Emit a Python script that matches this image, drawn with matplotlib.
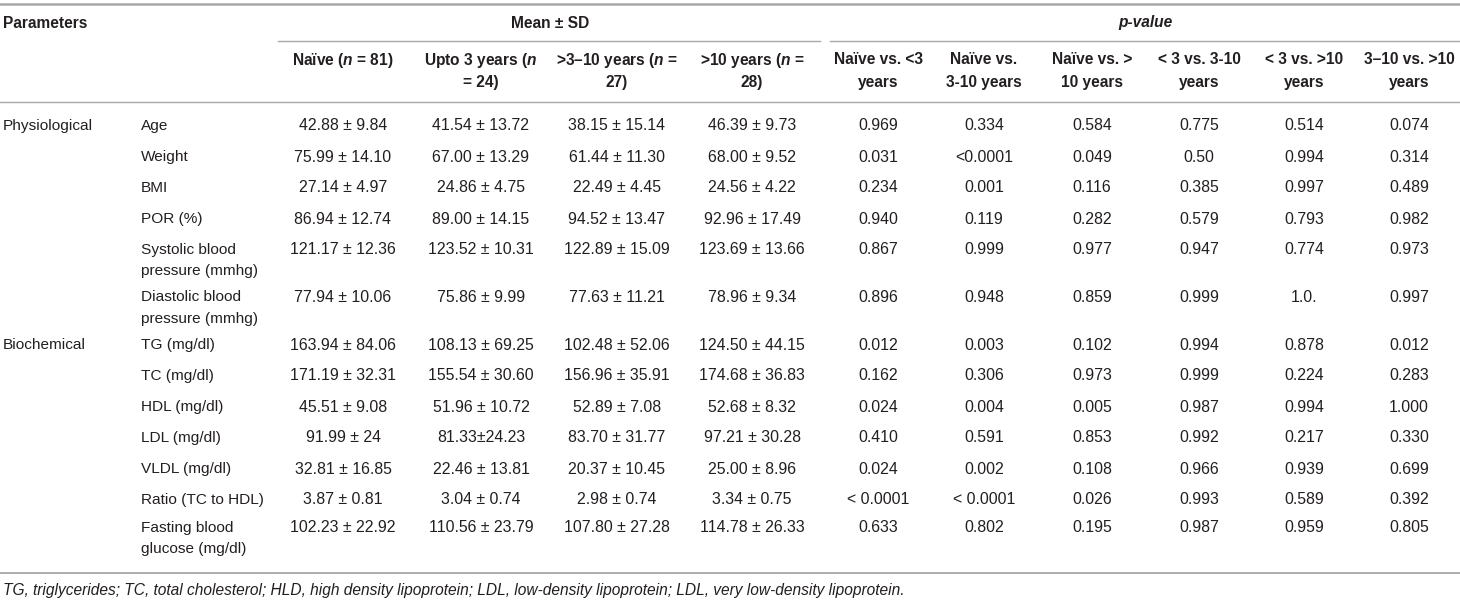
import matplotlib
matplotlib.use("Agg")
import matplotlib.pyplot as plt

FAM = "Liberation Sans"
plt.rcParams['font.family'] = [FAM, 'DejaVu Sans']
plt.rcParams['mathtext.fontset'] = 'custom'
plt.rcParams['mathtext.rm'] = FAM
plt.rcParams['mathtext.it'] = FAM + ':italic'
plt.rcParams['mathtext.bf'] = FAM + ':bold'
NMATH = r"$\it{n}$"
try:
    plt.rcParams['mathtext.bfit'] = FAM + ':italic:bold'
    NMATH = r"$\mathbfit{n}$"
except Exception:
    pass

# ---------------- data ----------------
groups = ["Physiological", "", "", "", "", "", "Biochemical", "", "", "", "", "", ""]
params = ["Age", "Weight", "BMI", "POR (%)", "Systolic blood\npressure (mmhg)",
          "Diastolic blood\npressure (mmhg)", "TG (mg/dl)", "TC (mg/dl)", "HDL (mg/dl)",
          "LDL (mg/dl)", "VLDL (mg/dl)", "Ratio (TC to HDL)", "Fasting blood\nglucose (mg/dl)"]
naive = ["42.88 ± 9.84", "75.99 ± 14.10", "27.14 ± 4.97", "86.94 ± 12.74", "121.17 ± 12.36",
         "77.94 ± 10.06", "163.94 ± 84.06", "171.19 ± 32.31", "45.51 ± 9.08", "91.99 ± 24",
         "32.81 ± 16.85", "3.87 ± 0.81", "102.23 ± 22.92"]
upto3 = ["41.54 ± 13.72", "67.00 ± 13.29", "24.86 ± 4.75", "89.00 ± 14.15", "123.52 ± 10.31",
         "75.86 ± 9.99", "108.13 ± 69.25", "155.54 ± 30.60", "51.96 ± 10.72", "81.33±24.23",
         "22.46 ± 13.81", "3.04 ± 0.74", "110.56 ± 23.79"]
y3to10 = ["38.15 ± 15.14", "61.44 ± 11.30", "22.49 ± 4.45", "94.52 ± 13.47", "122.89 ± 15.09",
          "77.63 ± 11.21", "102.48 ± 52.06", "156.96 ± 35.91", "52.89 ± 7.08", "83.70 ± 31.77",
          "20.37 ± 10.45", "2.98 ± 0.74", "107.80 ± 27.28"]
over10 = ["46.39 ± 9.73", "68.00 ± 9.52", "24.56 ± 4.22", "92.96 ± 17.49", "123.69 ± 13.66",
          "78.96 ± 9.34", "124.50 ± 44.15", "174.68 ± 36.83", "52.68 ± 8.32", "97.21 ± 30.28",
          "25.00 ± 8.96", "3.34 ± 0.75", "114.78 ± 26.33"]
p_naive_lt3 = ["0.969", "0.031", "0.234", "0.940", "0.867", "0.896", "0.012", "0.162", "0.024",
               "0.410", "0.024", "< 0.0001", "0.633"]
p_naive_3to10 = ["0.334", "<0.0001", "0.001", "0.119", "0.999", "0.948", "0.003", "0.306", "0.004",
                 "0.591", "0.002", "< 0.0001", "0.802"]
p_naive_gt10 = ["0.584", "0.049", "0.116", "0.282", "0.977", "0.859", "0.102", "0.973", "0.005",
                "0.853", "0.108", "0.026", "0.195"]
p_lt3_3to10 = ["0.775", "0.50", "0.385", "0.579", "0.947", "0.999", "0.994", "0.999", "0.987",
               "0.992", "0.966", "0.993", "0.987"]
p_lt3_gt10 = ["0.514", "0.994", "0.997", "0.793", "0.774", "1.0.", "0.878", "0.224", "0.994",
              "0.217", "0.939", "0.589", "0.959"]
p_3to10_gt10 = ["0.074", "0.314", "0.489", "0.982", "0.973", "0.997", "0.012", "0.283", "1.000",
                "0.330", "0.699", "0.392", "0.805"]
col_headers = ["Naïve (@n@ = 81)", "Upto 3 years (@n@\n= 24)", ">3–10 years (@n@ =\n27)",
               ">10 years (@n@ =\n28)", "Naïve vs. <3\nyears", "Naïve vs.\n3-10 years",
               "Naïve vs. >\n10 years", "< 3 vs. 3-10\nyears", "< 3 vs. >10\nyears",
               "3–10 vs. >10\nyears"]
footnote = ("TG, triglycerides; TC, total cholesterol; HLD, high density lipoprotein; "
            "LDL, low-density lipoprotein; LDL, very low-density lipoprotein.")

# ---------------- layout ----------------
W, H = 1460, 602
fig = plt.figure(figsize=(W / 100, H / 100), dpi=100)
ax = fig.add_axes([0, 0, 1, 1])
ax.set_xlim(0, W)
ax.set_ylim(H, 0)
ax.axis("off")

TXT = "#231f20"
LINE = "#a8a8a8"
FS = 11.1      # body labels
NFS = 11.4     # numbers
HFS = 11.2     # bold headers

col_x = [343, 481, 617, 752, 878, 984, 1092, 1199, 1304, 1409]
row_y = [126, 157, 188, 219, 250, 297, 345, 376, 407, 438, 469, 500, 528]

# horizontal rules
ax.plot([0, W], [4, 4], color=LINE, lw=1.8)
ax.plot([278, 820], [41, 41], color=LINE, lw=1.0)
ax.plot([830, W], [41, 41], color=LINE, lw=1.0)
ax.plot([0, W], [102, 102], color=LINE, lw=1.0)
ax.plot([0, W], [573, 573], color=LINE, lw=1.3)

# header
ax.text(3, 23, "Parameters", fontsize=HFS, fontweight="bold", color=TXT, va="center", ha="left")
ax.text(550, 23, "Mean ± SD", fontsize=HFS, fontweight="bold", color=TXT, va="center", ha="center")
ax.text(1145, 23, "p-value", fontsize=HFS, fontweight="bold", fontstyle="italic", color=TXT,
        va="center", ha="center")
for x, h in zip(col_x, col_headers):
    for i, ln in enumerate(h.split("\n")):
        ax.text(x, 60 + 22 * i, ln.replace("@n@", NMATH), fontsize=HFS, fontweight="bold",
                color=TXT, va="center", ha="center")

# body
cols = [naive, upto3, y3to10, over10, p_naive_lt3, p_naive_3to10, p_naive_gt10,
        p_lt3_3to10, p_lt3_gt10, p_3to10_gt10]
for r, y in enumerate(row_y):
    if groups[r]:
        ax.text(3, y, groups[r], fontsize=FS, color=TXT, va="center", ha="left")
    for i, ln in enumerate(params[r].split("\n")):
        ax.text(141, y + 21.5 * i, ln, fontsize=FS, color=TXT, va="center", ha="left")
    for x, c in zip(col_x, cols):
        ax.text(x, y, c[r], fontsize=NFS, color=TXT, va="center", ha="center")

ax.text(3, 591, footnote, fontsize=11.2, fontstyle="italic", color=TXT, va="center", ha="left")

fig.savefig("out.png", dpi=100, facecolor="white")
